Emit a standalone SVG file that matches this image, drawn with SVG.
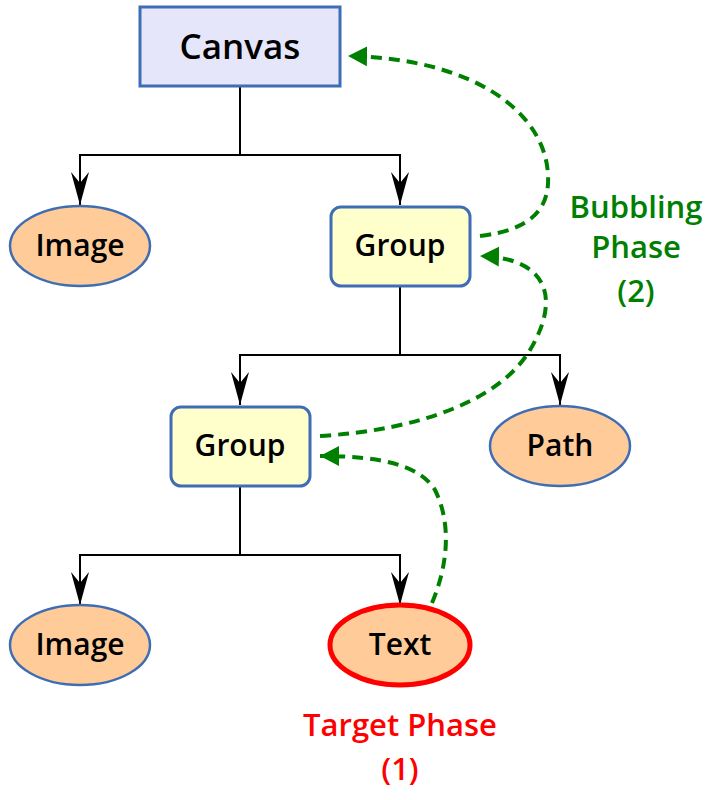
<svg xmlns="http://www.w3.org/2000/svg" width="720" height="800" viewBox="0 0 720 800">
<defs>
<marker id="ah" markerUnits="userSpaceOnUse" viewBox="0 -10 34 20" markerWidth="34" markerHeight="20" refX="33" refY="0" orient="auto">
<path d="M0,-9 L33,0 L0,9 L11,0 Z" fill="#000"/>
</marker>
<marker id="gh" markerUnits="userSpaceOnUse" viewBox="0 -11 20 22" markerWidth="20" markerHeight="22" refX="19" refY="0" orient="auto">
<path d="M0,-10 L19,0 L0,10 Z" fill="#008000"/>
</marker>
<style>
.lbl{font-family:"Open Sans","Noto Sans","DejaVu Sans",sans-serif;font-size:30px;fill:#000;text-anchor:middle;font-weight:600}
.rect{fill:#ffffcc;stroke:#3f6db5;stroke-width:3}
.ell{fill:#ffcc99;stroke:#3f6db5;stroke-width:2.5}
.edge{fill:none;stroke:#000;stroke-width:2;marker-end:url(#ah)}
.bub{fill:none;stroke:#008000;stroke-width:4;stroke-dasharray:11,7;marker-end:url(#gh)}
.note{font-family:"Open Sans","Noto Sans","DejaVu Sans",sans-serif;font-size:31px;text-anchor:middle;font-weight:600}
</style>
</defs>
<g id="connectors">
<path class="edge" d="M240,86 V155 H80 V205"/>
<path class="edge" d="M240,155 H400 V205"/>
<path class="edge" d="M400,286 V355 H240 V405"/>
<path class="edge" d="M400,355 H560 V405"/>
<path class="edge" d="M240,486 V555 H80 V605"/>
<path class="edge" d="M240,555 H400 V605"/>
<path class="bub" d="M480,236 C530,230 550,210 548,175 C545,110 470,58 348,56"/>
<path class="bub" d="M320,436 C420,430 500,400 530,350 C560,300 550,258 480,256"/>
<path class="bub" d="M432,603 C450,560 450,520 435,490 C420,465 380,456 320,456"/>
</g>
<g id="canvas">
<rect x="140" y="7" width="200" height="79" fill="#e6e6fa" stroke="#3f6db5" stroke-width="3"/>
<text class="lbl" x="240" y="59" style="font-size:35px">Canvas</text>
</g>
<g id="image1">
<ellipse class="ell" cx="80" cy="246" rx="70" ry="40"/>
<text class="lbl" x="80" y="256">Image</text>
</g>
<g id="group1">
<rect class="rect" x="331" y="207" width="139" height="79" rx="10"/>
<text class="lbl" x="400" y="256">Group</text>
</g>
<g id="group2">
<rect class="rect" x="171" y="407" width="139" height="79" rx="10"/>
<text class="lbl" x="240" y="456">Group</text>
</g>
<g id="path">
<ellipse class="ell" cx="560" cy="446" rx="70" ry="40"/>
<text class="lbl" x="560" y="456">Path</text>
</g>
<g id="image2">
<ellipse class="ell" cx="80" cy="645" rx="70" ry="40"/>
<text class="lbl" x="80" y="655">Image</text>
</g>
<g id="text">
<ellipse cx="400" cy="645" rx="70" ry="40" fill="#ffcc99" stroke="#ff0000" stroke-width="5"/>
<text class="lbl" x="400" y="655">Text</text>
</g>
<g id="bubbling-label">
<text class="note" fill="#008000"><tspan x="636" y="218">Bubbling</tspan><tspan x="636" y="258">Phase</tspan><tspan x="636" y="302">(2)</tspan></text>
</g>
<g id="target-label">
<text class="note" fill="#ff0000"><tspan x="400" y="736">Target Phase</tspan><tspan x="400" y="780">(1)</tspan></text>
</g>
</svg>
